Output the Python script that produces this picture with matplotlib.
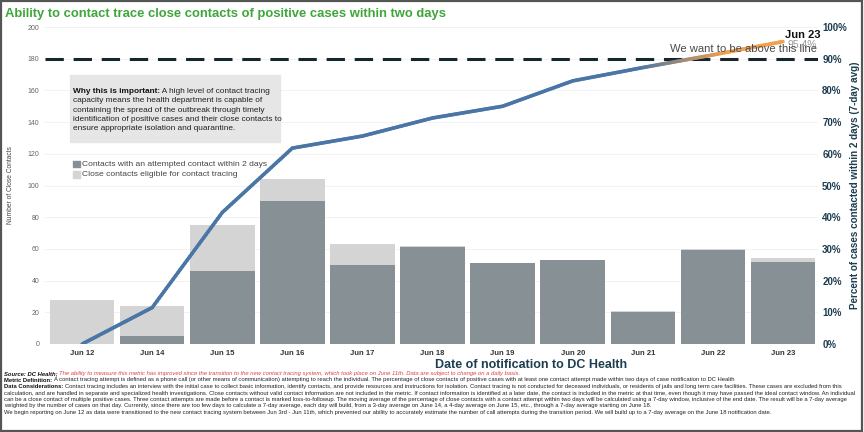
import matplotlib
matplotlib.use("Agg")
import matplotlib.pyplot as plt
import numpy as np
from matplotlib.collections import LineCollection
from matplotlib.patches import Rectangle
import matplotlib.colors as mcolors

plt.rcParams['font.family'] = ['Liberation Sans', 'DejaVu Sans']

dates = ["Jun 12", "Jun 14", "Jun 15", "Jun 16", "Jun 17", "Jun 18", "Jun 19",
         "Jun 20", "Jun 21", "Jun 22", "Jun 23"]
eligible = [28, 24, 75, 104, 63, 62, 51, 53, 21, 60, 54]
attempted = [0, 5, 46, 90, 50, 61, 51, 53, 20, 59, 52]
pct_7day = [0.0, 11.5, 41.5, 61.8, 65.6, 71.3, 75.0, 83.0, 87.2, 91.2, 95.4]
target_pct = 90
left_ticks = list(range(0, 201, 20))
right_ticks = list(range(0, 101, 10))

W, H = 864, 432
fig = plt.figure(figsize=(W / 100, H / 100), dpi=100)

ax = fig.add_axes([45 / W, 1 - 344 / H, (818 - 45) / W, (344 - 27) / H])
x = np.arange(len(dates))

ax.bar(x, eligible, width=0.92, color="#d4d4d4", zorder=2)
ax.bar(x, attempted, width=0.92, color="#879094", zorder=3)

ax.set_ylim(0, 200)
ax.set_xlim(-0.53, 10.5)
ax.set_yticks(left_ticks)
ax.set_yticklabels([str(t) for t in left_ticks], fontsize=5, color="#666666")
ax.set_xticks(x)
ax.set_xticklabels(dates, fontsize=5.5, fontweight="bold", color="#333333")
ax.tick_params(axis="both", length=0, pad=4)
ax.grid(axis="y", color="#f0f0f0", linewidth=0.6, zorder=0)
for s in ax.spines.values():
    s.set_visible(False)
ax.set_ylabel("Number of Close Contacts", fontsize=4.8, color="#444444", labelpad=10)

ax2 = ax.twinx()
ax2.set_ylim(0, 100)
ax2.set_yticks(right_ticks)
ax2.set_yticklabels([f"{t}%" for t in right_ticks], fontsize=7, fontweight="bold", color="#1d3d50")
ax2.tick_params(axis="y", length=0, pad=3)
for s in ax2.spines.values():
    s.set_visible(False)
fig.text(855 / W, 1 - 185 / H, "Percent of cases contacted within 2 days (7-day avg)", fontsize=7.1,
         fontweight="bold", color="#1d3d50", rotation=90, ha="center", va="center")

# target dashed line
ax2.axhline(target_pct, color="#16262e", linewidth=2.2, dashes=(6, 3.2), zorder=4)

# gradient line
blue = np.array(mcolors.to_rgb("#4a76a6"))
orange = np.array(mcolors.to_rgb("#f0a04e"))
xs, ys = [], []
for i in range(len(x) - 1):
    t = np.linspace(0, 1, 30, endpoint=False)
    xs.extend(x[i] + t * (x[i + 1] - x[i]))
    ys.extend(pct_7day[i] + t * (pct_7day[i + 1] - pct_7day[i]))
xs.append(x[-1]); ys.append(pct_7day[-1])
xs = np.array(xs); ys = np.array(ys)
pts = np.column_stack([xs, ys]).reshape(-1, 1, 2)
segs = np.concatenate([pts[:-1], pts[1:]], axis=1)
mid = (ys[:-1] + ys[1:]) / 2
f = np.clip((mid - 87) / (92 - 87), 0, 1)[:, None]
cols = blue * (1 - f) + orange * f
lc = LineCollection(segs, colors=cols, linewidths=2.6, capstyle="round", zorder=5)
ax2.add_collection(lc)

ax2.text(x[-1] + 0.03, pct_7day[-1] + 0.5, dates[-1], fontsize=8, fontweight="bold",
         color="#111111", ha="left", va="bottom", zorder=6)
ax2.text(x[-1] + 0.06, pct_7day[-1] + 0.6, f"{pct_7day[-1]:.1f}%", fontsize=7.5,
         color="#999999", ha="left", va="top", zorder=6)
fig.text(817 / W, 1 - 49 / H, "We want to be above this line", fontsize=8.1,
         color="#4a4a4a", ha="right", va="center", zorder=7)

# title
fig.text(5 / W, 1 - 14 / H, "Ability to contact trace close contacts of positive cases within two days",
         fontsize=9.4, fontweight="bold", color="#3ea63a", ha="left", va="center")

# info box
fig.patches.append(Rectangle((70 / W, 1 - 142 / H), (280 - 70) / W, (142 - 75) / H,
                             transform=fig.transFigure, color="#e6e6e6", zorder=1))
renderer = fig.canvas.get_renderer()


def rich_line(xpx, ypx, parts, size):
    xpos = xpx / W
    for txt, kw in parts:
        t = fig.text(xpos, 1 - ypx / H, txt, fontsize=size, ha="left", va="baseline", **kw)
        bb = t.get_window_extent(renderer=renderer)
        xpos = bb.x1 / fig.bbox.width
    return xpos


box_lines = [
    [("Why this is important:", dict(fontweight="bold", color="#111111")),
     (" A high level of contact tracing", dict(color="#222222"))],
    [("capacity means the health department is capable of", dict(color="#222222"))],
    [("containing the spread of the outbreak through timely", dict(color="#222222"))],
    [("identification of positive cases and their close contacts to", dict(color="#222222"))],
    [("ensure appropriate isolation and quarantine.", dict(color="#222222"))],
]
for i, parts in enumerate(box_lines):
    rich_line(73, 93 + i * 9.3, parts, 5.95)

# legend
fig.patches.append(Rectangle((73 / W, 1 - 167.5 / H), 6.7 / W, 6.7 / H, transform=fig.transFigure,
                             color="#879094", zorder=2))
fig.patches.append(Rectangle((73 / W, 1 - 177.7 / H), 6.7 / W, 6.7 / H, transform=fig.transFigure,
                             color="#d4d4d4", zorder=2))
fig.text(82 / W, 1 - 164 / H, "Contacts with an attempted contact within 2 days", fontsize=6.1,
         color="#444444", va="center")
fig.text(82 / W, 1 - 174.3 / H, "Close contacts eligible for contact tracing", fontsize=6.1,
         color="#444444", va="center")

# x label
fig.text(531 / W, 1 - 365 / H, "Date of notification to DC Health", fontsize=9, fontweight="bold",
         color="#1d3d50", ha="center", va="center")

# footnotes
fs = 4.2
B = dict(fontweight="bold", color="#111111")
N = dict(color="#222222")
foot = [
    [("Source: DC Health; ", dict(fontweight="bold", style="italic", color="#111111")),
     ("The ability to measure this metric has improved since the transition to the new contact tracing system, which took place on June 11th. Data are subject to change on a daily basis.",
      dict(style="italic", color="#e0404a"))],
    [("Metric Definition: ", B),
     ("A contact tracing attempt is defined as a phone call (or other means of communication) attempting to reach the individual. The percentage of close contacts of positive cases with at least one contact attempt made within two days of case notification to DC Health", N)],
    [("Data Considerations: ", B),
     ("Contact tracing includes an interview with the initial case to collect basic information, identify contacts, and provide resources and instructions for isolation. Contact tracing is not conducted for deceased individuals, or residents of jails and long term care facilities. These cases are excluded from this", N)],
    [("calculation, and are handled in separate and specialized health investigations. Close contacts without valid contact information are not included in the metric. If contact information is identified at a later date, the contact is included in the metric at that time, even though it may have passed the ideal contact window. An individual", N)],
    [("can be a close contact of multiple positive cases. Three contact attempts are made before a contact is marked loss-to-followup. The moving average of the percentage of close contacts with a contact attempt within two days will be calculated using a 7-day window, inclusive of the end date. The result will be a 7-day average", N)],
    [("weighted by the number of cases on that day. Currently, since there are too few days to calculate a 7-day average, each day will build, from a 3-day average on June 14, a 4-day average on June 15, etc., through a 7-day average starting on June 18.", N)],
    [("We begin reporting on June 12 as data were transitioned to the new contact tracing system between Jun 3rd - Jun 11th, which prevented our ability to accurately estimate the number of call attempts during the transition period. We will build up to a 7-day average on the June 18 notification date.", N)],
]
for i, parts in enumerate(foot):
    rich_line(4, 375 + i * 6.5, parts, fs)

# outer frame
fig.patches.append(Rectangle((0.001, 0.002), 0.997, 0.995, transform=fig.transFigure,
                             fill=False, edgecolor="#555555", linewidth=1.6, zorder=10))

fig.savefig("out.png", dpi=100)
